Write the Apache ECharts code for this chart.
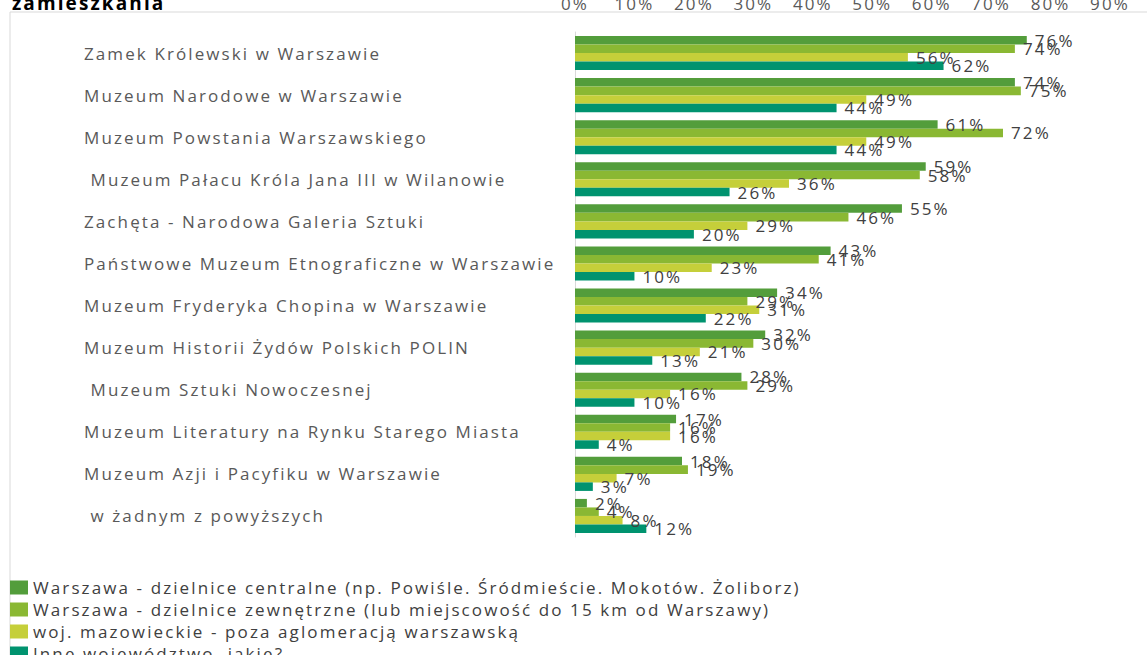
<!DOCTYPE html>
<html>
<head>
<meta charset="utf-8">
<script src="https://cdn.jsdelivr.net/npm/echarts@6/dist/echarts.min.js"></script>
<style>
  html, body { margin: 0; padding: 0; background: #fff; }
  #main { width: 1147px; height: 655px; }
  /* Excel-style wide letter spacing */
  #main svg text { letter-spacing: 2.1px; }
</style>
</head>
<body>
<div id="main"></div>
<script>
// kategorie (muzea)
const categories = [
  "Zamek Królewski w Warszawie",
  "Muzeum Narodowe w Warszawie",
  "Muzeum Powstania Warszawskiego",
  " Muzeum Pałacu Króla Jana III w Wilanowie",
  "Zachęta - Narodowa Galeria Sztuki",
  "Państwowe Muzeum Etnograficzne w Warszawie",
  "Muzeum Fryderyka Chopina w Warszawie",
  "Muzeum Historii Żydów Polskich POLIN",
  " Muzeum Sztuki Nowoczesnej",
  "Muzeum Literatury na Rynku Starego Miasta",
  "Muzeum Azji i Pacyfiku w Warszawie",
  " w żadnym z powyższych"
];
const seriesNames = [
  "Warszawa - dzielnice centralne (np. Powiśle. Śródmieście. Mokotów. Żoliborz)",
  "Warszawa - dzielnice zewnętrzne (lub miejscowość do 15 km od Warszawy)",
  "woj. mazowieckie - poza aglomeracją warszawską",
  "Inne województwo, jakie?"
];
const centralne = [76, 74, 61, 59, 55, 43, 34, 32, 28, 17, 18, 2];
const zewnetrzne = [74, 75, 72, 58, 46, 41, 29, 30, 29, 16, 19, 4];
const mazowieckie = [56, 49, 49, 36, 29, 23, 31, 21, 16, 16, 7, 8];
const inne = [62, 44, 44, 26, 20, 10, 22, 13, 10, 4, 3, 12];
const xTicks = [0, 10, 20, 30, 40, 50, 60, 70, 80, 90];

const colors = ["#539d3b", "#8ab833", "#c5cf3a", "#00936f"];
const font = "'Open Sans', sans-serif";

const chart = echarts.init(document.getElementById("main"), null, { renderer: "svg" });

const allData = [centralne, zewnetrzne, mazowieckie, inne];
const series = allData.map((d, i) => ({
  name: seriesNames[i],
  type: "bar",
  data: d,
  barGap: "0%",
  barCategoryGap: "19%",
  itemStyle: { color: colors[i] },
  label: {
    show: true,
    position: "right",
    distance: 8,
    offset: [0, 0],
    color: "#404040",
    fontFamily: font,
    fontSize: 17,
    formatter: p => p.value + "%"
  }
}));

chart.setOption({
  animation: false,
  color: colors,
  title: {
    text: "zamieszkania",
    left: 7,
    top: -12,
    textStyle: { fontFamily: font, fontWeight: "bold", fontSize: 19, color: "#000" }
  },
  graphic: [{
    type: "rect",
    shape: { x: 10, y: 12, width: 1200, height: 700 },
    style: { fill: null, stroke: "#d9d9d9", lineWidth: 1 },
    silent: true,
    z: -1
  }],
  legend: {
    orient: "vertical",
    left: 5,
    top: 573,
    height: 300,
    icon: "rect",
    itemWidth: 18,
    itemHeight: 14,
    itemGap: 3,
    textStyle: { fontFamily: font, fontSize: 17, color: "#404040", lineHeight: 19 },
    data: seriesNames
  },
  grid: { left: 575, top: 32, right: 37, bottom: 118, containLabel: false, outerBoundsMode: "none" },
  xAxis: {
    type: "value",
    position: "top",
    min: xTicks[0],
    max: xTicks[xTicks.length - 1],
    interval: 10,
    axisLine: { show: false },
    axisTick: { show: false },
    splitLine: { show: false },
    axisLabel: {
      margin: 20,
      color: "#595959",
      fontFamily: font,
      fontSize: 17,
      formatter: v => v + "%"
    }
  },
  yAxis: {
    type: "category",
    inverse: true,
    data: categories,
    axisLine: { show: true, lineStyle: { color: "#d9d9d9" } },
    axisTick: { show: false },
    axisLabel: {
      align: "left",
      margin: 491,
      color: "#595959",
      fontFamily: font,
      fontSize: 17
    }
  },
  series: series
});
</script>
</body>
</html>
